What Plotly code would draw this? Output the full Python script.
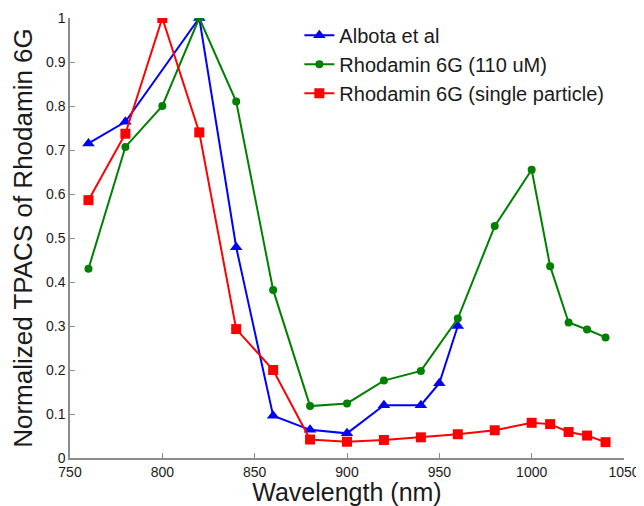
import plotly.graph_objects as go

x_albota = [760, 780, 820, 840, 860, 880, 900, 920, 940, 950, 960]
y_albota = [0.715, 0.764, 1.0, 0.479, 0.096, 0.064, 0.056, 0.12, 0.12, 0.17, 0.30]

x_r6g = [760, 780, 800, 820, 840, 860, 880, 900, 920, 940, 960, 980, 1000, 1010, 1020, 1030, 1040]
y_r6g = [0.43, 0.707, 0.80, 1.0, 0.81, 0.382, 0.118, 0.124, 0.176, 0.198, 0.317, 0.527, 0.655, 0.436, 0.308, 0.292, 0.274]

x_single = [760, 780, 800, 820, 840, 860, 880, 900, 920, 940, 960, 980, 1000, 1010, 1020, 1030, 1040]
y_single = [0.586, 0.737, 1.0, 0.74, 0.293, 0.2, 0.042, 0.037, 0.041, 0.047, 0.054, 0.063, 0.080, 0.077, 0.059, 0.051, 0.036]

x_ticks = [750, 800, 850, 900, 950, 1000, 1050]
y_ticks = [0, 0.1, 0.2, 0.3, 0.4, 0.5, 0.6, 0.7, 0.8, 0.9, 1]
y_ticklabels = ["0", "0.1", "0.2", "0.3", "0.4", "0.5", "0.6", "0.7", "0.8", "0.9", "1"]

FONT = "Liberation Sans, Arial, sans-serif"

fig = go.Figure()
fig.add_trace(go.Scatter(x=x_albota, y=y_albota, mode="lines+markers", name="Albota et al",
                         line=dict(color="#0000FF", width=2),
                         marker=dict(symbol="triangle-up", size=11, color="#0000FF")))
fig.add_trace(go.Scatter(x=x_r6g, y=y_r6g, mode="lines+markers", name="Rhodamin 6G (110 uM)",
                         line=dict(color="#008000", width=2),
                         marker=dict(symbol="circle", size=8, color="#008000")))
fig.add_trace(go.Scatter(x=x_single, y=y_single, mode="lines+markers", name="Rhodamin 6G (single particle)",
                         line=dict(color="#FF0000", width=2),
                         marker=dict(symbol="square", size=10, color="#FF0000")))

axis_common = dict(showline=True, linecolor="#8c8c8c", linewidth=1.5, ticks="inside", ticklen=5,
                   tickcolor="#8c8c8c", showgrid=False, zeroline=False, mirror=False,
                   automargin=False,
                   tickfont=dict(family=FONT, size=14, color="#1a1a1a"))

fig.update_layout(
    template="none",
    width=636, height=498,
    margin=dict(l=62, r=20, t=10, b=48, autoexpand=False),
    paper_bgcolor="white", plot_bgcolor="white",
    showlegend=True,
    legend=dict(x=0.414, y=1.005, xanchor="left", yanchor="top", bgcolor="rgba(0,0,0,0)",
                font=dict(family=FONT, size=20, color="#1a1a1a"),
                tracegroupgap=0, itemwidth=30, borderwidth=0),
    xaxis=dict(range=[750, 1050], tickvals=x_ticks, ticktext=[str(v) for v in x_ticks],
               title=dict(text="Wavelength (nm)", standoff=4,
                          font=dict(family=FONT, size=25, color="#1a1a1a")),
               **axis_common),
    yaxis=dict(range=[0, 1], tickvals=y_ticks, ticktext=y_ticklabels,
               title=dict(text="Normalized TPACS of Rhodamin 6G", standoff=8,
                          font=dict(family=FONT, size=26, color="#1a1a1a")),
               **axis_common),
)

fig.write_html("out.html")
